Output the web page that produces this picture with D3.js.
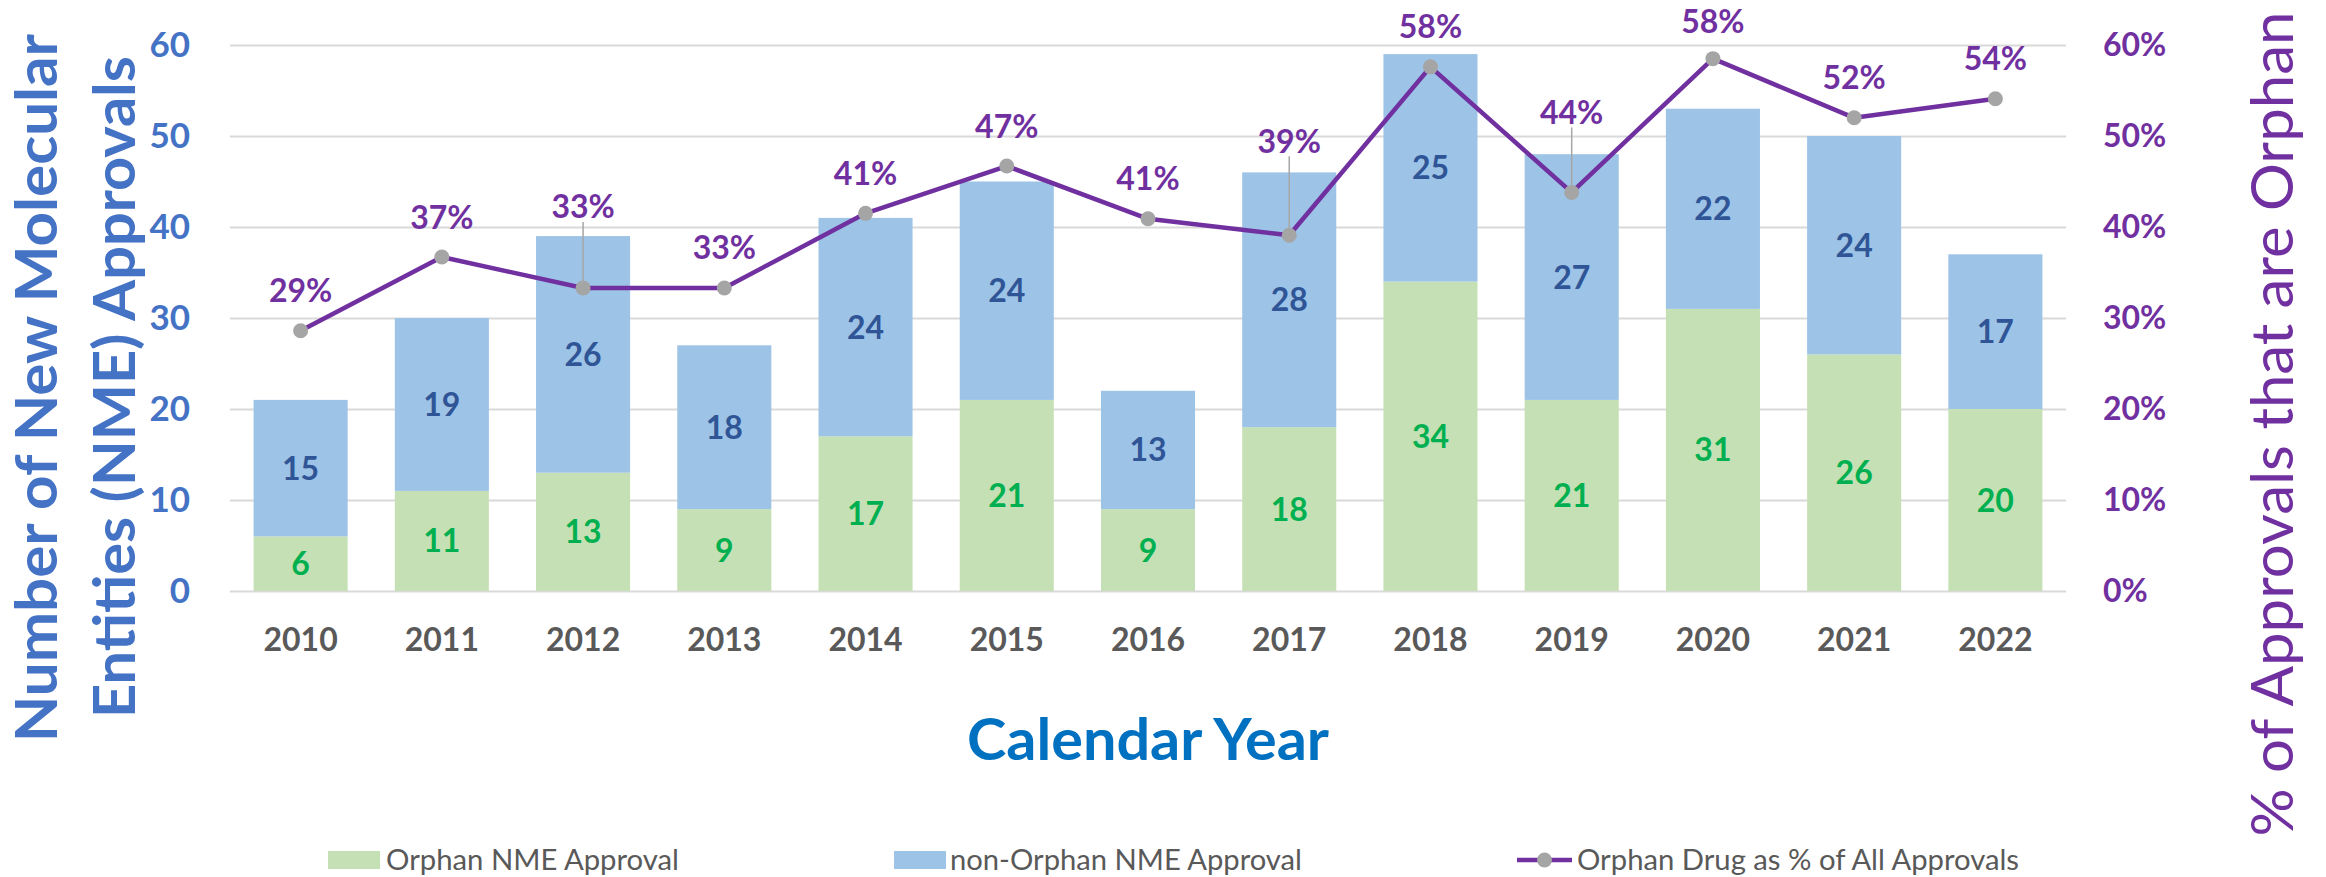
<!DOCTYPE html>
<html>
<head>
<meta charset="utf-8">
<script src="https://cdn.jsdelivr.net/npm/d3@7"></script>
<style>
  body { margin: 0; background: #fff; }
  text { font-family: "Lato", "Open Sans", sans-serif; }
</style>
</head>
<body>
<script>
// data
var years = ["2010","2011","2012","2013","2014","2015","2016","2017","2018","2019","2020","2021","2022"];
var orphan    = [6, 11, 13, 9, 17, 21, 9, 18, 34, 21, 31, 26, 20];
var nonOrphan = [15, 19, 26, 18, 24, 24, 13, 28, 25, 27, 22, 24, 17];
var orphanPct = [28.6, 36.7, 33.3, 33.3, 41.5, 46.7, 40.9, 39.1, 57.6, 43.8, 58.5, 52.0, 54.1];
var pctLabels = ["29%","37%","33%","33%","41%","47%","41%","39%","58%","44%","58%","52%","54%"];
var leftTicks  = [0, 10, 20, 30, 40, 50, 60];
var rightTicks = [0, 10, 20, 30, 40, 50, 60];

var width = 2326, height = 877;
var plot = {left: 230, right: 2066, top: 45, bottom: 591};

// label lift above the point (px); a few have leader lines
var labelLift = {"2012": 81, "2017": 94, "2019": 80};
var hasLeader = {"2012": true, "2017": true, "2019": true};
var liftOverride = {"2020": 37};

var svg = d3.select("body").append("svg")
    .attr("width", width)
    .attr("height", height);

var x = d3.scaleBand()
    .domain(years)
    .range([plot.left, plot.right])
    .paddingInner(0.334)
    .paddingOuter(0.167);

var y = d3.scaleLinear().domain([0, 60]).range([plot.bottom, plot.top]);
var yPct = d3.scaleLinear().domain([0, 60]).range([plot.bottom, plot.top]);

// gridlines
svg.append("g")
    .attr("transform", "translate(" + plot.left + ",0)")
    .call(d3.axisLeft(y).tickValues(leftTicks).tickSize(-(plot.right - plot.left)).tickFormat(""))
    .call(function(g) { g.select(".domain").remove(); })
    .selectAll("line")
    .attr("stroke", "#d9d9d9")
    .attr("stroke-width", 2);

// left axis labels
svg.append("g")
    .attr("transform", "translate(" + plot.left + ",0)")
    .call(d3.axisLeft(y).tickValues(leftTicks).tickSize(0).tickPadding(40))
    .call(function(g) { g.select(".domain").remove(); })
    .selectAll("text")
    .attr("fill", "#4472c4")
    .attr("font-size", "35px")
    .attr("font-weight", "bold")
    .style("font-family", "Lato");

// right axis labels
svg.append("g")
    .attr("transform", "translate(" + plot.right + ",0)")
    .call(d3.axisRight(yPct).tickValues(rightTicks).tickSize(0).tickPadding(37)
        .tickFormat(function(d) { return d + "%"; }))
    .call(function(g) { g.select(".domain").remove(); })
    .selectAll("text")
    .attr("fill", "#7030a0")
    .attr("font-size", "32px")
    .attr("font-weight", "bold")
    .style("font-family", "Lato");

// x axis labels
svg.append("g")
    .attr("transform", "translate(0," + plot.bottom + ")")
    .call(d3.axisBottom(x).tickSize(0).tickPadding(37))
    .call(function(g) { g.select(".domain").remove(); })
    .selectAll("text")
    .attr("fill", "#595959")
    .attr("font-size", "32px")
    .attr("font-weight", "bold")
    .style("font-family", "Lato");

// stacked bars
var rows = years.map(function(yr, i) {
    return {year: yr, orphan: orphan[i], non: nonOrphan[i], pct: orphanPct[i], label: pctLabels[i]};
});

var bars = svg.append("g").attr("class", "bars");

bars.selectAll(".orphanBar")
    .data(rows)
    .enter()
    .append("rect")
    .attr("class", "orphanBar")
    .attr("x", function(d) { return x(d.year); })
    .attr("y", function(d) { return y(d.orphan); })
    .attr("width", x.bandwidth())
    .attr("height", function(d) { return y(0) - y(d.orphan); })
    .attr("fill", "#c5e0b4");

bars.selectAll(".nonBar")
    .data(rows)
    .enter()
    .append("rect")
    .attr("class", "nonBar")
    .attr("x", function(d) { return x(d.year); })
    .attr("y", function(d) { return y(d.orphan + d.non); })
    .attr("width", x.bandwidth())
    .attr("height", function(d) { return y(d.orphan) - y(d.orphan + d.non); })
    .attr("fill", "#9dc3e6");

bars.selectAll(".orphanLabel")
    .data(rows)
    .enter()
    .append("text")
    .attr("x", function(d) { return x(d.year) + x.bandwidth() / 2; })
    .attr("y", function(d) { return (y(0) + y(d.orphan)) / 2; })
    .attr("dy", "0.36em")
    .attr("text-anchor", "middle")
    .attr("fill", "#00b050")
    .attr("font-size", "32px")
    .attr("font-weight", "bold")
    .text(function(d) { return d.orphan; });

bars.selectAll(".nonLabel")
    .data(rows)
    .enter()
    .append("text")
    .attr("x", function(d) { return x(d.year) + x.bandwidth() / 2; })
    .attr("y", function(d) { return (y(d.orphan) + y(d.orphan + d.non)) / 2; })
    .attr("dy", "0.36em")
    .attr("text-anchor", "middle")
    .attr("fill", "#2f5597")
    .attr("font-size", "32px")
    .attr("font-weight", "bold")
    .text(function(d) { return d.non; });

// leader lines
function cx(d) { return x(d.year) + x.bandwidth() / 2; }
function lift(d) { return labelLift[d.year] || liftOverride[d.year] || 40; }

svg.append("g").selectAll("line")
    .data(rows.filter(function(d) { return hasLeader[d.year]; }))
    .enter()
    .append("line")
    .attr("x1", cx)
    .attr("x2", cx)
    .attr("y1", function(d) { return yPct(d.pct) - lift(d) + 15; })
    .attr("y2", function(d) { return yPct(d.pct); })
    .attr("stroke", "#a6a6a6")
    .attr("stroke-width", 1.5);

// percent line
var line = d3.line()
    .x(cx)
    .y(function(d) { return yPct(d.pct); });

svg.append("path")
    .datum(rows)
    .attr("d", line)
    .attr("fill", "none")
    .attr("stroke", "#7030a0")
    .attr("stroke-width", 4.5)
    .attr("stroke-linejoin", "round");

svg.append("g").selectAll("circle")
    .data(rows)
    .enter()
    .append("circle")
    .attr("cx", cx)
    .attr("cy", function(d) { return yPct(d.pct); })
    .attr("r", 7.5)
    .attr("fill", "#a5a5a5");

svg.append("g").selectAll("text")
    .data(rows)
    .enter()
    .append("text")
    .attr("x", cx)
    .attr("y", function(d) { return yPct(d.pct) - lift(d); })
    .attr("dy", "0.36em")
    .attr("text-anchor", "middle")
    .attr("fill", "#7030a0")
    .attr("font-size", "32px")
    .attr("font-weight", "bold")
    .text(function(d) { return d.label; });

// axis titles
var leftTitle = svg.append("g")
    .attr("fill", "#4472c4")
    .attr("font-weight", "bold")
    .attr("font-size", "58px");

leftTitle.append("text")
    .attr("transform", "translate(57,388) rotate(-90)")
    .attr("text-anchor", "middle")
    .attr("textLength", 708)
    .attr("lengthAdjust", "spacingAndGlyphs")
    .text("Number of New Molecular");

leftTitle.append("text")
    .attr("transform", "translate(135,387) rotate(-90)")
    .attr("text-anchor", "middle")
    .attr("textLength", 662)
    .attr("lengthAdjust", "spacingAndGlyphs")
    .text("Entities (NME) Approvals");

svg.append("text")
    .attr("transform", "translate(2293,424) rotate(-90)")
    .attr("text-anchor", "middle")
    .attr("fill", "#7030a0")
    .attr("font-size", "58px")
    .attr("textLength", 825)
    .attr("lengthAdjust", "spacingAndGlyphs")
    .text("% of  Approvals that are Orphan");

svg.append("text")
    .attr("x", (plot.left + plot.right) / 2)
    .attr("y", 760)
    .attr("text-anchor", "middle")
    .attr("fill", "#0070c0")
    .attr("font-size", "58px")
    .attr("font-weight", "bold")
    .attr("textLength", 362)
    .attr("lengthAdjust", "spacingAndGlyphs")
    .text("Calendar Year");

// legend
var legendY = 860;
var legend = svg.append("g").attr("class", "legend");

legend.append("rect").attr("x", 328).attr("y", legendY - 9).attr("width", 52).attr("height", 18).attr("fill", "#c5e0b4");
legend.append("text").attr("x", 386).attr("y", legendY + 10)
    .attr("fill", "#595959").attr("font-size", "28px")
    .attr("textLength", 293).attr("lengthAdjust", "spacingAndGlyphs")
    .text("Orphan NME Approval");

legend.append("rect").attr("x", 894).attr("y", legendY - 9).attr("width", 52).attr("height", 18).attr("fill", "#9dc3e6");
legend.append("text").attr("x", 950).attr("y", legendY + 10)
    .attr("fill", "#595959").attr("font-size", "28px")
    .attr("textLength", 352).attr("lengthAdjust", "spacingAndGlyphs")
    .text("non-Orphan NME Approval");

legend.append("line").attr("x1", 1517).attr("x2", 1572).attr("y1", legendY).attr("y2", legendY)
    .attr("stroke", "#7030a0").attr("stroke-width", 4.5);
legend.append("circle").attr("cx", 1544.5).attr("cy", legendY).attr("r", 7.5).attr("fill", "#a5a5a5");
legend.append("text").attr("x", 1577).attr("y", legendY + 10)
    .attr("fill", "#595959").attr("font-size", "28px")
    .attr("textLength", 442).attr("lengthAdjust", "spacingAndGlyphs")
    .text("Orphan Drug as % of All Approvals");
</script>
</body>
</html>
